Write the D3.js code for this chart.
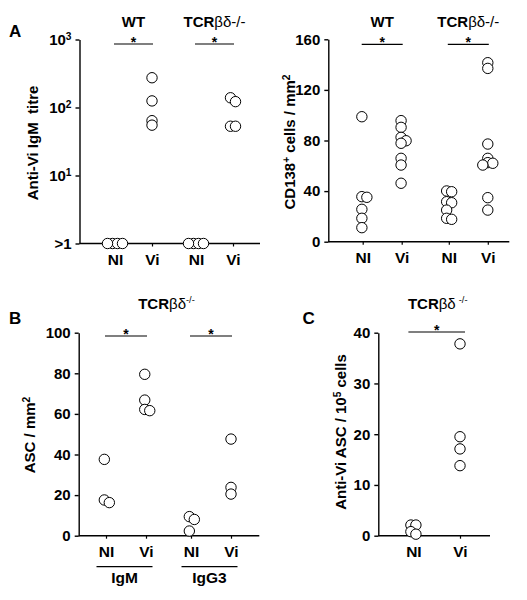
<!DOCTYPE html>
<html><head><meta charset="utf-8">
<script src="https://cdn.jsdelivr.net/npm/d3@7"></script>
<style>
body{margin:0;background:#fff}
svg{display:block}
text{font-family:"Liberation Sans",Arial,Helvetica,sans-serif;fill:#000}
</style>
</head><body>
<svg id="chart" width="527" height="600"></svg>
<script>
// ---------------- DATA ----------------
const conditions = ["NI", "Vi"];
const groupsA = ["WT", "TCRβδ-/-"];
const groupsB = ["IgM", "IgG3"];
const groupsC = ["TCRβδ-/-"];

// Panel A (left): anti-Vi IgM titre (log)
const titreTickValues = [1, 10, 100, 1000];
const titreTickBase = [">1", "10", "10", "10"];
const titreTickExp = ["", "1", "2", "3"];
const titreWT_NI = [1, 1, 1, 1];
const titreWT_Vi = [274, 125, 64, 55];
const titreTCR_NI = [1, 1, 1, 1];
const titreTCR_Vi = [139, 122, 53, 53];

// Panel A (right): CD138+ cells / mm2
const cd138Ticks = [0, 40, 80, 120, 160];
const cd138WT_NI = [98.8, 35.6, 35.1, 25.6, 18.5, 11.1];
const cd138WT_Vi = [95.7, 90.4, 82.5, 79.8, 77.8, 65.9, 60.6, 46.2];
const cd138TCR_NI = [40.1, 39.5, 31.6, 30.8, 25.0, 18.5, 17.7];
const cd138TCR_Vi = [141.5, 137.0, 77.2, 65.9, 62.5, 62.0, 60.6, 34.8, 25.0];

// Panel B: ASC / mm2 (TCRβδ-/-)
const ascTicks = [0, 20, 40, 60, 80, 100];
const ascIgM_NI = [37.6, 17.6, 16.3];
const ascIgM_Vi = [79.5, 66.8, 62.2, 61.6];
const ascIgG3_NI = [9.4, 8.0, 2.3];
const ascIgG3_Vi = [47.6, 23.8, 20.5];

// Panel C: anti-Vi ASC / 10^5 cells (TCRβδ-/-)
const antiViTicks = [0, 10, 20, 30, 40];
const antiVi_NI = [2.1, 2.1, 0.8, 0.3];
const antiVi_Vi = [37.8, 19.5, 17.1, 13.8];

// ---------------- DRAW ----------------
const svg = d3.select("#chart");
const R = 5.2;

function dodge(values, cx, y) {
  const minDist = 4, step = 5;
  const placed = [];
  const cands = [0];
  for (let i = 1; i < 12; i++) cands.push(i * step, -i * step);
  values.forEach(v => {
    const py = y(v);
    let off = 0;
    for (const c of cands) {
      if (placed.every(p => Math.hypot(p.x - c, p.y - py) >= minDist)) { off = c; break; }
    }
    placed.push({ x: off, y: py, v });
  });
  const m = d3.mean(placed, p => p.x);
  return placed.map(p => ({ cx: cx + p.x - m, cy: p.y }));
}

function addSup(sel, parts) {
  // parts: array of [text, isSup]
  let prevSup = false;
  parts.forEach(([t, sup]) => {
    const ts = sel.append("tspan").text(t);
    if (sup) ts.attr("dy", "-0.45em").attr("font-size", "0.68em");
    else if (prevSup) ts.attr("dy", "0.31em");
    prevSup = sup;
  });
}

function drawPanel(cfg) {
  const g = svg.append("g");
  const y = cfg.y;
  const xg = d3.scalePoint(cfg.groups, cfg.groupRange);
  const xc = d3.scalePoint(conditions, cfg.condRange);
  const keys = [];
  cfg.groups.forEach(gr => conditions.forEach(c => keys.push(gr + "|" + c)));
  const xOrd = d3.scaleOrdinal(keys, keys.map(k => { const [gr, c] = k.split("|"); return xg(gr) + xc(c); }));
  const baseY = y(cfg.yDomain[0]);

  // y axis
  const ya = g.append("g")
    .attr("transform", `translate(${cfg.axisX},0)`)
    .call(d3.axisLeft(y).tickValues(cfg.tickValues).tickSize(4).tickSizeOuter(0).tickPadding(4));
  ya.selectAll(".tick text").each(function (d, i) {
    const t = d3.select(this).text(null);
    t.append("tspan").text(cfg.tickBase[i]);
    if (cfg.tickExp && cfg.tickExp[i]) {
      t.append("tspan").attr("dy", "-0.5em").attr("font-size", "0.68em").text(cfg.tickExp[i]);
    }
  });
  ya.attr("font-size", 15).attr("font-weight", "bold").attr("font-family", null);
  ya.selectAll("path,line").attr("stroke", "#000").attr("stroke-width", 1.4);

  // x axis
  const xa = g.append("g")
    .attr("transform", `translate(0,${baseY})`)
    .call(d3.axisBottom(xOrd).tickSize(3).tickSizeOuter(0).tickPadding(8).tickFormat(k => k.split("|")[1]));
  xa.select(".domain").remove();
  xa.append("line").attr("x1", cfg.axisX).attr("x2", cfg.axisEnd).attr("stroke", "#000").attr("stroke-width", 1.4);
  xa.attr("font-size", 15.5).attr("font-weight", "bold").attr("font-family", null);
  xa.selectAll(".tick line").attr("stroke", "#000").attr("stroke-width", 1.2);
  xa.selectAll(".tick text").attr("dy", "0.71em").attr("y", 10.5);

  // group titles
  if (cfg.titles) {
    cfg.groups.forEach(gr => {
      const t = g.append("text").attr("x", xg(gr) + (cfg.titleDx || 0)).attr("y", cfg.titleY)
        .attr("text-anchor", "middle").attr("font-size", 15).attr("font-weight", "bold");
      if (gr === "WT") t.text("WT");
      else {
        t.append("tspan").text("TCR");
        t.append("tspan").attr("font-weight", "normal").text("βδ");
        if (cfg.supKO) {
          t.append("tspan").attr("font-weight", "normal").attr("font-size", "0.62em").attr("dy", "-0.6em")
            .attr("dx", cfg.koGap || 0).text("-/-");
        } else {
          t.append("tspan").attr("font-weight", "normal").text("-/-");
        }
      }
    });
  }

  // significance bars
  cfg.groups.forEach(gr => {
    const x1 = xOrd(gr + "|NI") - cfg.sigPad, x2 = xOrd(gr + "|Vi") + cfg.sigPad;
    const sy = y(cfg.yDomain[1]) + cfg.sigOff;
    g.append("line").attr("x1", x1).attr("x2", x2).attr("y1", sy).attr("y2", sy)
      .attr("stroke", "#000").attr("stroke-width", 1.2);
    g.append("text").attr("x", (x1 + x2) / 2).attr("y", sy + 2.5).attr("text-anchor", "middle")
      .attr("font-size", 14).attr("font-weight", "bold").text("*");
  });

  // points
  cfg.series.forEach(s => {
    const pts = dodge(s.values, xOrd(s.group + "|" + s.cond), y);
    g.append("g").selectAll("circle").data(pts).join("circle")
      .attr("cx", d => d.cx).attr("cy", d => d.cy).attr("r", R)
      .attr("fill", "#fff").attr("stroke", "#000").attr("stroke-width", 1);
  });

  // y title
  const yt = g.append("text").attr("transform", `translate(${cfg.yTitleX},${cfg.yTitleY}) rotate(-90)`)
    .attr("text-anchor", "middle").attr("font-size", 15).attr("font-weight", "bold")
    .attr("xml:space", "preserve");
  addSup(yt, cfg.yTitle);

  // panel letter
  if (cfg.letter) {
    g.append("text").attr("x", cfg.letterX).attr("y", cfg.letterY).attr("font-size", 17)
      .attr("font-weight", "bold").text(cfg.letter);
  }
  return { g, xg, xOrd };
}

// Panel A left
drawPanel({
  y: d3.scaleLog().domain([1, 1000]).range([243.5, 39.5]),
  yDomain: [1, 1000],
  tickValues: titreTickValues, tickBase: titreTickBase, tickExp: titreTickExp,
  groups: groupsA, groupRange: [133.5, 214.5], condRange: [-18.5, 18.5],
  axisX: 79.5, axisEnd: 260,
  titles: true, titleY: 27,
  sigPad: 1, sigOff: 4.5,
  series: [
    { group: groupsA[0], cond: "NI", values: titreWT_NI },
    { group: groupsA[0], cond: "Vi", values: titreWT_Vi },
    { group: groupsA[1], cond: "NI", values: titreTCR_NI },
    { group: groupsA[1], cond: "Vi", values: titreTCR_Vi }
  ],
  yTitle: [["Anti-Vi IgM\u00A0\u00A0titre", false]], yTitleX: 38, yTitleY: 143,
  letter: "A", letterX: 9, letterY: 37
});

// Panel A right
drawPanel({
  y: d3.scaleLinear().domain([0, 160]).range([241.7, 39.3]),
  yDomain: [0, 160],
  tickValues: cd138Ticks, tickBase: cd138Ticks.map(String),
  groups: groupsA, groupRange: [382.2, 468.3], condRange: [-19.5, 19.5],
  axisX: 328.3, axisEnd: 509.3,
  titles: true, titleY: 27,
  sigPad: 1, sigOff: 5,
  series: [
    { group: groupsA[0], cond: "NI", values: cd138WT_NI },
    { group: groupsA[0], cond: "Vi", values: cd138WT_Vi },
    { group: groupsA[1], cond: "NI", values: cd138TCR_NI },
    { group: groupsA[1], cond: "Vi", values: cd138TCR_Vi }
  ],
  yTitle: [["CD138", false], ["+", true], [" cells / mm", false], ["2", true]], yTitleX: 295, yTitleY: 142,
  letter: ""
});

// Panel B
const pB = drawPanel({
  y: d3.scaleLinear().domain([0, 100]).range([535.7, 332.7]),
  yDomain: [0, 100],
  tickValues: ascTicks, tickBase: ascTicks.map(String),
  groups: groupsB, groupRange: [126, 211], condRange: [-20, 20],
  axisX: 78.7, axisEnd: 259.3,
  titles: false,
  sigPad: 1, sigOff: 3.3,
  series: [
    { group: groupsB[0], cond: "NI", values: ascIgM_NI },
    { group: groupsB[0], cond: "Vi", values: ascIgM_Vi },
    { group: groupsB[1], cond: "NI", values: ascIgG3_NI },
    { group: groupsB[1], cond: "Vi", values: ascIgG3_Vi }
  ],
  yTitle: [["ASC / mm", false], ["2", true]], yTitleX: 35, yTitleY: 435,
  letter: "B", letterX: 9, letterY: 323.5
});
// B: group underlines + labels + title
groupsB.forEach(gr => {
  const cx = pB.xg(gr) - 1.5;
  pB.g.append("line").attr("x1", cx - 28).attr("x2", cx + 28).attr("y1", 566.7).attr("y2", 566.7)
    .attr("stroke", "#000").attr("stroke-width", 1.2);
  pB.g.append("text").attr("x", cx).attr("y", 583).attr("text-anchor", "middle")
    .attr("font-size", 15.5).attr("font-weight", "bold").text(gr);
});
{
  const t = pB.g.append("text").attr("x", 166.5).attr("y", 308.5).attr("text-anchor", "middle")
    .attr("font-size", 15).attr("font-weight", "bold");
  t.append("tspan").text("TCR");
  t.append("tspan").attr("font-weight", "normal").text("βδ");
  t.append("tspan").attr("font-weight", "normal").attr("font-size", "0.62em").attr("dy", "-0.6em").text("-/-");
}

// Panel C
drawPanel({
  y: d3.scaleLinear().domain([0, 40]).range([535.7, 332.7]),
  yDomain: [0, 40],
  tickValues: antiViTicks, tickBase: antiViTicks.map(String),
  groups: groupsC, groupRange: [436.7, 436.7], condRange: [-23.3, 23.3],
  axisX: 378.3, axisEnd: 490,
  titles: true, titleY: 308.5, supKO: true, koGap: 3, titleDx: 1,
  sigPad: 5, sigOff: -0.7,
  series: [
    { group: groupsC[0], cond: "NI", values: antiVi_NI },
    { group: groupsC[0], cond: "Vi", values: antiVi_Vi }
  ],
  yTitle: [["Anti-Vi ASC / 10", false], ["5", true], [" cells", false]], yTitleX: 346, yTitleY: 432,
  letter: "C", letterX: 302.5, letterY: 323.5
});
</script>
</body></html>
